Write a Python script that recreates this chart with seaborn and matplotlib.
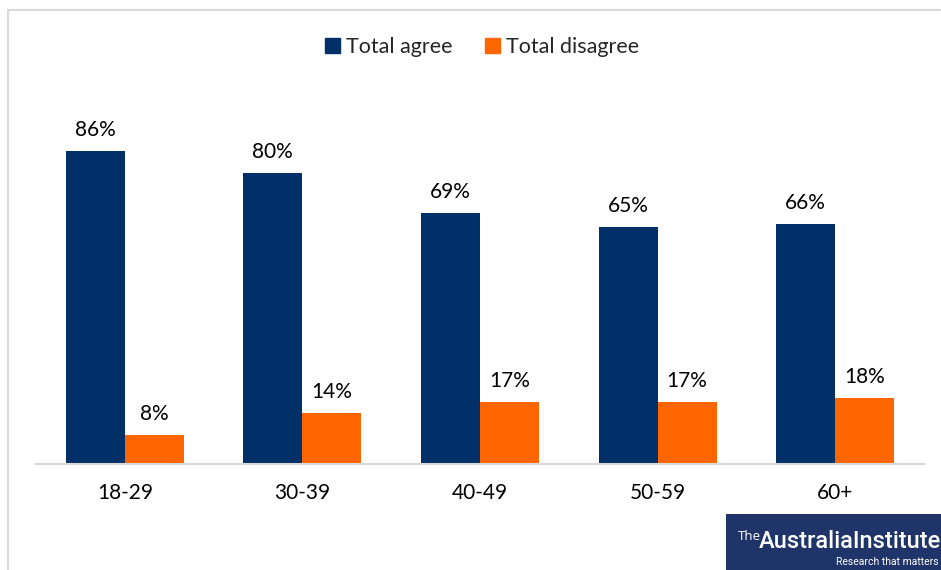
import matplotlib
matplotlib.use("Agg")
import matplotlib.pyplot as plt
from matplotlib.patches import Rectangle
import seaborn as sns
import pandas as pd

# Survey results by age group
age_groups = ["18-29", "30-39", "40-49", "50-59", "60+"]
total_agree = [86, 80, 69, 65, 66]
total_disagree = [8, 14, 17, 17, 18]
series_names = ["Total agree", "Total disagree"]
series_colors = ["#003067", "#ff6600"]

df = pd.DataFrame({
    "age": age_groups * 2,
    "value": total_agree + total_disagree,
    "series": [series_names[0]] * len(age_groups) + [series_names[1]] * len(age_groups),
})

sns.set_theme(style="white")
plt.rcParams["font.family"] = ["Lato", "DejaVu Sans"]

fig = plt.figure(figsize=(9.41, 5.70), dpi=100)
ax = fig.add_axes([36 / 941, 106 / 570, 888 / 941, 364 / 570])

sns.barplot(data=df, x="age", y="value", hue="series", palette=series_colors,
            width=0.665, gap=0, saturation=1, linewidth=0, ax=ax, legend=False)

ax.set_ylim(0, 100)
ax.set_xlim(-0.5, 4.5)
ax.set_xlabel("")
ax.set_ylabel("")
ax.set_yticks([])
for side in ["top", "right", "left"]:
    ax.spines[side].set_visible(False)
ax.spines["bottom"].set_color("#d9d9d9")
ax.spines["bottom"].set_linewidth(1.5)
ax.tick_params(axis="x", length=0, pad=14, labelsize=15, labelcolor="#000000")

for container in ax.containers:
    ax.bar_label(container, labels=[f"{v:.0f}%" for v in container.datavalues],
                 padding=8, fontsize=15, color="#000000")

# Legend
handles = [Rectangle((0, 0), 1, 1, color=c) for c in series_colors]
fig.legend(handles, series_names, loc="center", bbox_to_anchor=(482 / 941, 1 - 47 / 570),
           ncol=2, frameon=False, fontsize=15.5, handlelength=0.7, handleheight=0.7,
           handletextpad=0.3, columnspacing=1.5)

# Outer frame
fig.add_artist(plt.Line2D([8 / 941, 940 / 941], [1 - 10 / 570, 1 - 10 / 570],
                          transform=fig.transFigure, color="#d9d9d9", lw=1.5))
fig.add_artist(plt.Line2D([8 / 941, 8 / 941], [0, 1 - 10 / 570],
                          transform=fig.transFigure, color="#d9d9d9", lw=1.5))

# Logo block
fig.add_artist(Rectangle((726 / 941, 0), 215 / 941, 56 / 570, transform=fig.transFigure,
                         facecolor="#1f3468", edgecolor="none"))
fig.text(738 / 941, 1 - 537 / 570, "The", color="white", fontsize=9.5,
         family=["Open Sans", "DejaVu Sans"], ha="left", va="center")
fig.text(759 / 941, 1 - 541 / 570, "AustraliaInstitute", color="white", fontsize=17,
         family=["Roboto", "DejaVu Sans"], fontweight="medium", ha="left", va="center")
fig.text(939 / 941, 1 - 562 / 570, "Research that matters", color="white", fontsize=7.5,
         family=["Roboto", "DejaVu Sans"], ha="right", va="center")

fig.savefig("out.png", dpi=100)
